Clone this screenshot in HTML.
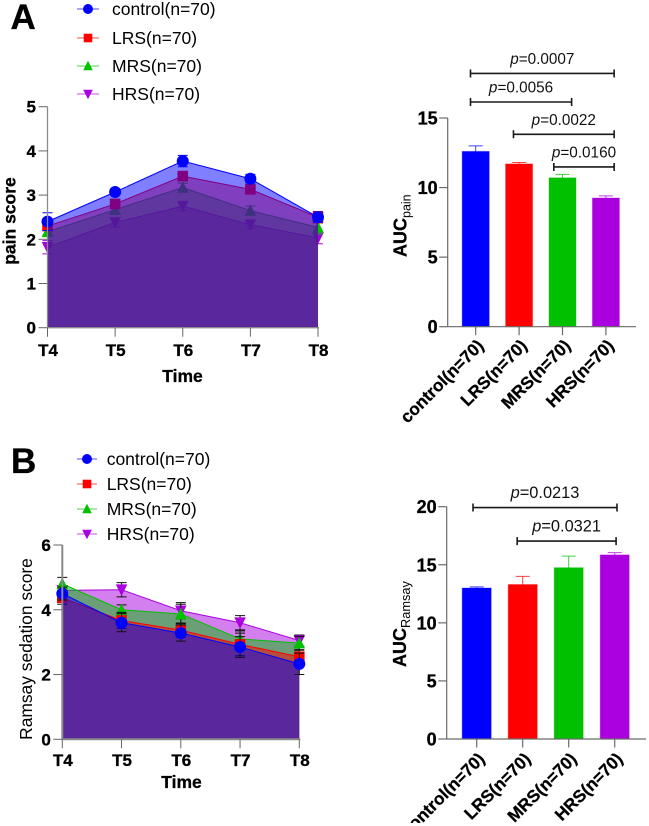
<!DOCTYPE html>
<html lang="en">
<head>
<meta charset="utf-8">
<title>Pain and Ramsay sedation scores</title>
<style>
html,body{margin:0;padding:0;background:#fff;}
svg{display:block;font-family:"Liberation Sans",Arial,sans-serif;}
svg text[font-weight="bold"]{stroke:#000;stroke-width:0.3px;}
</style>
</head>
<body>
<svg id="fig" xmlns="http://www.w3.org/2000/svg" width="649" height="826" viewBox="0 0 649 826">
  <rect width="649" height="826" fill="#fff"/>
  <defs>
    <clipPath id="pageClip"><rect x="0" y="0" width="649" height="823"/></clipPath>
  </defs>
  <text x="10.5" y="29" font-size="35" font-weight="bold" fill="#000">A</text>
  <text x="11" y="473" font-size="35" font-weight="bold" fill="#000">B</text>

  <text transform="translate(15.5,221) rotate(-90)" text-anchor="middle" font-size="17.5" font-weight="bold">pain score</text>
  <text x="182.5" y="382" text-anchor="middle" font-size="17.5" font-weight="bold">Time</text>
  <text transform="translate(32,649) rotate(-90)" text-anchor="middle" font-size="17.4">Ramsay sedation score</text>
  <text x="181.5" y="788" text-anchor="middle" font-size="17.5" font-weight="bold">Time</text>

  <text transform="translate(406.5,257) rotate(-90)" font-size="18" font-weight="bold">AUC<tspan font-size="12.5" font-weight="normal" stroke="none" dy="4">pain</tspan></text>
  <text transform="translate(406,667) rotate(-90)" font-size="18" font-weight="bold">AUC<tspan font-size="12.8" font-weight="normal" stroke="none" dy="4">Ramsay</tspan></text>

  <g id="lineA"></g>
  <g id="lineB"></g>
  <g id="barA"></g>
  <g id="barB" clip-path="url(#pageClip)"></g>
</svg>
<script>
// shared categories
const timeLabels = ['T4', 'T5', 'T6', 'T7', 'T8'];
const groupLabels = ['control(n=70)', 'LRS(n=70)', 'MRS(n=70)', 'HRS(n=70)'];
const groupKeys = ['control', 'lrs', 'mrs', 'hrs'];

// panel A: pain score
const painControl = [2.40, 3.07, 3.77, 3.37, 2.50];
const painLRS = [2.30, 2.80, 3.43, 3.13, 2.50];
const painMRS = [2.17, 2.67, 3.17, 2.65, 2.27];
const painHRS = [1.82, 2.38, 2.75, 2.33, 2.03];
const painControlErr = [0.20, 0.05, 0.13, 0.10, 0.12];
const painLRSErr = [0.10, 0.05, 0.05, 0.05, 0.13];
const painMRSErr = [0.07, 0.07, 0.10, 0.10, 0.15];
const painHRSErr = [0.15, 0.10, 0.10, 0.08, 0.13];
const painTicks = [0, 1, 2, 3, 4, 5];

// panel B: Ramsay sedation score
const ramsayControl = [4.50, 3.60, 3.28, 2.85, 2.33];
const ramsayLRS = [4.37, 3.67, 3.37, 2.93, 2.55];
const ramsayMRS = [4.80, 4.00, 3.87, 3.10, 2.97];
const ramsayHRS = [4.60, 4.62, 3.97, 3.60, 3.05];
const ramsayControlErr = [0.20, 0.28, 0.25, 0.32, 0.33];
const ramsayLRSErr = [0.20, 0.25, 0.22, 0.35, 0.20];
const ramsayMRSErr = [0.20, 0.15, 0.30, 0.25, 0.20];
const ramsayHRSErr = [0.15, 0.22, 0.25, 0.22, 0.17];
const ramsayTicks = [0, 2, 4, 6];

// AUC bars
const aucPain = [12.6, 11.7, 10.7, 9.25];
const aucPainErr = [0.4, 0.1, 0.25, 0.15];
const aucPainTicks = [0, 5, 10, 15];
const aucRamsay = [13.0, 13.3, 14.75, 15.85];
const aucRamsayErr = [0.1, 0.7, 1.0, 0.2];
const aucRamsayTicks = [0, 5, 10, 15, 20];

// significance annotations (group index range, height in axis units)
const painPLabels = ['0.0007', '0.0056', '0.0022', '0.0160'];
const painPFrom = [-0.12, -0.12, 0.87, 1.80];
const painPTo = [3.19, 2.21, 3.19, 3.19];
const painPLevel = [18.2, 16.15, 13.83, 11.48];
const ramsayPLabels = ['0.0213', '0.0321'];
const ramsayPFrom = [-0.08, 0.88];
const ramsayPTo = [3.05, 3.03];
const ramsayPLevel = [19.93, 17.04];

const NS = 'http://www.w3.org/2000/svg';
const COLORS = ['#0000ff', '#ff0000', '#00c000', '#aa00e0'];
const AXIS = '#8a8a8a';
const DARKAXIS = '#6a6a6a';

function make(parent, tag, attrs, txt) {
  const el = document.createElementNS(NS, tag);
  for (const k in attrs) el.setAttribute(k, attrs[k]);
  if (txt !== undefined) el.textContent = txt;
  parent.appendChild(el);
  return el;
}

function marker(parent, kind, x, y, color, s) {
  let el;
  if (kind === 0) {
    el = make(parent, 'circle', {cx: x, cy: y, r: s, fill: color});
  } else if (kind === 1) {
    el = make(parent, 'rect', {x: x - s + 0.5, y: y - s + 0.5, width: 2 * s - 1, height: 2 * s - 1, fill: color});
  } else if (kind === 2) {
    el = make(parent, 'polygon', {points: (x - s) + ',' + (y + s - 0.5) + ' ' + (x + s) + ',' + (y + s - 0.5) + ' ' + x + ',' + (y - s - 0.5), fill: color});
  } else {
    el = make(parent, 'polygon', {points: (x - s) + ',' + (y - s + 0.5) + ' ' + (x + s) + ',' + (y - s + 0.5) + ' ' + x + ',' + (y + s + 0.5), fill: color});
  }
  return el;
}

function drawLineChart(g, opt) {
  const xs = i => opt.x0 + i * (opt.x1 - opt.x0) / (timeLabels.length - 1);
  const ys = v => opt.y0 + (opt.y1 - opt.y0) * v / opt.yMax;

  // series painted back to front: HRS, MRS, LRS, control
  for (let s = 3; s >= 0; s--) {
    const vals = opt.series[s];
    const errs = opt.errors[s];
    const col = COLORS[s];
    const key = groupKeys[s];
    const top = vals.map((v, i) => xs(i) + ',' + ys(v));
    const area = make(g, 'polygon', {points: xs(0) + ',' + ys(0) + ' ' + top.join(' ') + ' ' + xs(vals.length - 1) + ',' + ys(0), fill: col, 'fill-opacity': 0.5});
    
    
    const line = make(g, 'polyline', {points: top.join(' '), fill: 'none', stroke: col, 'stroke-width': 1});
    
    
    vals.forEach((v, i) => {
      const ec = opt.errColor || col;
      const eb = make(g, 'path', {d: 'M' + (xs(i) - 5) + ' ' + ys(v + errs[i]) + 'H' + (xs(i) + 5) + 'M' + xs(i) + ' ' + ys(v + errs[i]) + 'V' + ys(v - errs[i]) + 'M' + (xs(i) - 5) + ' ' + ys(v - errs[i]) + 'H' + (xs(i) + 5), fill: 'none', stroke: ec, 'stroke-width': 1});
      
      
      const m = marker(g, s, xs(i), ys(v), col, s === 0 ? 6 : 5.8);
      
      
    });
  }

  // axes
  const ya = make(g, 'line', {x1: opt.x0, x2: opt.x0, y1: ys(0), y2: ys(opt.yMax), stroke: opt.axisColor, 'stroke-width': opt.axisWidth});
  
  
  const xa = make(g, 'line', {x1: opt.x0, x2: opt.x1 + 1, y1: ys(0), y2: ys(0), stroke: opt.axisColor, 'stroke-width': opt.axisWidth});
  
  
  opt.ticks.forEach(t => {
    const tk = make(g, 'line', {x1: opt.x0 - opt.tickLen, x2: opt.x0, y1: ys(t), y2: ys(t), stroke: '#666', 'stroke-width': 1});
    
    
    const lb = make(g, 'text', {x: opt.x0 - opt.tickLen - 2.5, y: ys(t) + 6, 'text-anchor': 'end', 'font-size': 17, 'font-weight': 'bold'}, t);
    
    
  });
  timeLabels.forEach((t, i) => {
    const tk = make(g, 'line', {x1: xs(i), x2: xs(i), y1: ys(0), y2: ys(0) + 9, stroke: '#666', 'stroke-width': 1});
    
    
    const lb = make(g, 'text', {x: xs(i) + 0.5, y: opt.xLabelY, 'text-anchor': 'middle', 'font-size': 17, 'font-weight': 'bold'}, t);
    
    
  });

  // legend
  groupLabels.forEach((t, i) => {
    const y = opt.legendY[i];
    const ll = make(g, 'line', {x1: opt.legendX0, x2: opt.legendX1, y1: y, y2: y, stroke: COLORS[i], 'stroke-width': 1, 'stroke-opacity': 0.7});
    
    
    const lm = marker(g, i, (opt.legendX0 + opt.legendX1) / 2, y, COLORS[i], i === 0 ? 5 : 4.8);
    
    
    const lt = make(g, 'text', {x: opt.legendTextX, y: y + 6, 'font-size': 17.5}, t);
    
    
  });
}

function drawBarChart(g, opt) {
  const xs = i => opt.cx0 + i * opt.step;
  const ys = v => opt.y0 + (opt.y1 - opt.y0) * v / opt.yMax;

  opt.values.forEach((v, i) => {
    const key = groupKeys[i];
    const er = make(g, 'path', {d: 'M' + xs(i) + ' ' + ys(v) + 'V' + ys(v + opt.errors[i]) + 'M' + (xs(i) - 7) + ' ' + ys(v + opt.errors[i]) + 'H' + (xs(i) + 7), fill: 'none', stroke: COLORS[i], 'stroke-width': 1, 'stroke-opacity': 0.75});
    
    
    const b = make(g, 'rect', {x: xs(i) - opt.barW / 2, y: ys(v), width: opt.barW, height: ys(0) - ys(v), fill: COLORS[i], stroke: COLORS[i], 'stroke-opacity': 0.35, 'stroke-width': 1});
    
    
    const tk = make(g, 'line', {x1: xs(i), x2: xs(i), y1: ys(0), y2: ys(0) + 8.5, stroke: DARKAXIS, 'stroke-width': 1.2});
    
    
    const lx = xs(i) + 9;
    const ly = ys(0) + opt.labelDy;
    const lb = make(g, 'text', {transform: 'translate(' + lx + ',' + ly + ') rotate(-45)', 'text-anchor': 'end', 'font-size': opt.labelSize, 'font-weight': 'bold'}, groupLabels[i]);
    
    
  });

  const ya = make(g, 'line', {x1: opt.axisX, x2: opt.axisX, y1: ys(0), y2: ys(opt.yMax), stroke: DARKAXIS, 'stroke-width': 1.2});
  
  
  const xa = make(g, 'line', {x1: opt.axisX, x2: opt.axisEnd, y1: ys(0), y2: ys(0), stroke: DARKAXIS, 'stroke-width': 1.2});
  
  
  opt.ticks.forEach(t => {
    const tk = make(g, 'line', {x1: opt.axisX - 8.5, x2: opt.axisX, y1: ys(t), y2: ys(t), stroke: DARKAXIS, 'stroke-width': 1.2});
    
    
    const lb = make(g, 'text', {x: opt.axisX - 10, y: ys(t) + 6.5, 'text-anchor': 'end', 'font-size': 18, 'font-weight': 'bold'}, t);
    
    
  });

  opt.pLabels.forEach((p, i) => {
    const a = xs(opt.pFrom[i]);
    const c = xs(opt.pTo[i]);
    const y = ys(opt.pLevel[i]);
    const br = make(g, 'path', {d: 'M' + a + ' ' + (y - 4) + 'V' + (y + 4) + 'M' + a + ' ' + y + 'H' + c + 'M' + c + ' ' + (y - 4) + 'V' + (y + 4), fill: 'none', stroke: '#1a1a1a', 'stroke-width': 1.6});
    
    
    const tx = make(g, 'text', {x: (a + c) / 2, y: y - 9.5, 'text-anchor': 'middle', 'font-size': opt.pSize, fill: '#111'});
    
    
    make(tx, 'tspan', {'font-style': 'italic'}, 'p');
    make(tx, 'tspan', {}, '=' + p);
  });
}

drawLineChart(document.getElementById('lineA'), {
  id: 'pain', x0: 47.5, x1: 318, y0: 327.7, y1: 106.7, yMax: 5,
  series: [painControl, painLRS, painMRS, painHRS],
  errors: [painControlErr, painLRSErr, painMRSErr, painHRSErr],
  ticks: painTicks, tickLen: 9, xLabelY: 356,
  axisColor: AXIS, axisWidth: 1.3,
  legendY: [9, 38, 66, 94], legendX0: 77, legendX1: 99, legendTextX: 112
});

drawLineChart(document.getElementById('lineB'), {
  id: 'ramsay', x0: 62.3, x1: 299.3, y0: 739.3, y1: 545, yMax: 6,
  series: [ramsayControl, ramsayLRS, ramsayMRS, ramsayHRS],
  errors: [ramsayControlErr, ramsayLRSErr, ramsayMRSErr, ramsayHRSErr],
  errColor: '#111',
  ticks: ramsayTicks, tickLen: 9, xLabelY: 766,
  axisColor: AXIS, axisWidth: 2,
  legendY: [459, 484, 509, 534], legendX0: 77, legendX1: 97, legendTextX: 106.7
});

drawBarChart(document.getElementById('barA'), {
  id: 'auc-pain', cx0: 475.7, step: 43.4, barW: 27, y0: 326.7, y1: 118, yMax: 15,
  axisX: 447.7, axisEnd: 636, values: aucPain, errors: aucPainErr, ticks: aucPainTicks,
  labelSize: 17.2, labelDy: 20, pSize: 15.3,
  pLabels: painPLabels, pFrom: painPFrom, pTo: painPTo, pLevel: painPLevel
});

drawBarChart(document.getElementById('barB'), {
  id: 'auc-ramsay', cx0: 476.7, step: 46, barW: 29, y0: 739, y1: 506.7, yMax: 20,
  axisX: 446.7, axisEnd: 646, values: aucRamsay, errors: aucRamsayErr, ticks: aucRamsayTicks,
  labelSize: 17.2, labelDy: 21, pSize: 16.4,
  pLabels: ramsayPLabels, pFrom: ramsayPFrom, pTo: ramsayPTo, pLevel: ramsayPLevel
});
</script>
</body>
</html>
